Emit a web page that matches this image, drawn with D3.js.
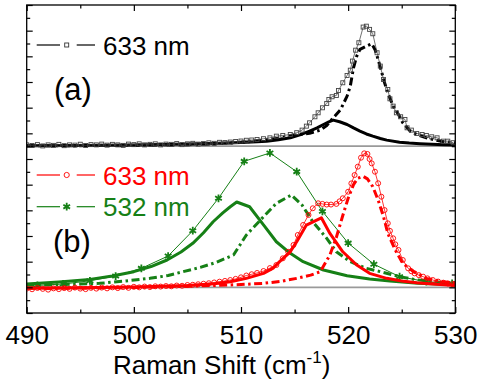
<!DOCTYPE html>
<html><head><meta charset="utf-8">
<script src="https://cdn.jsdelivr.net/npm/d3@7"></script>
<style>body{margin:0;background:#fff}svg{display:block}</style>
</head><body>
<svg id="c" width="479" height="379"></svg>
<script>
// ---------- data ----------
const xMajorTicks = [490, 500, 510, 520, 530];
const xMinorTicks = [495, 505, 515, 525];
const yMajorTicks = [0, 2, 4, 6, 8, 10, 12, 14, 16, 18, 20, 22, 24];
const yMinorTicks = [1, 3, 5, 7, 9, 11, 13, 15, 17, 19, 21, 23];
const offsetA = 13;   // baseline of panel (a)
const offsetB = 2;    // baseline of panel (b)
const legendA = ["633 nm"];
const legendB = ["633 nm", "532 nm"];
const panelLabels = ["(a)", "(b)"];

// (a) 633 nm measured (squares) [shift, intensity]
const sqData633a = [[490.0,0.10],[490.5,0.05],[491.0,0.12],[491.5,0.02],[492.0,0.10],[492.5,0.06],[493.0,0.14],[493.5,0.04],[494.0,0.10],[494.5,0.08],[495.0,0.15],[495.5,0.05],[496.0,0.12],[496.5,0.10],[497.0,0.16],[497.5,0.08],[498.0,0.14],[498.5,0.10],[499.0,0.06],[499.5,0.16],[500.0,0.12],[500.5,0.18],[501.0,0.10],[501.5,0.14],[502.0,0.18],[502.5,0.10],[503.0,0.16],[503.5,0.14],[504.0,0.20],[504.5,0.12],[505.0,0.18],[505.5,0.22],[506.0,0.16],[506.5,0.20],[507.0,0.26],[507.5,0.22],[508.0,0.30],[508.5,0.28],[509.0,0.32],[509.5,0.36],[510.0,0.40],[510.5,0.46],[511.0,0.48],[511.5,0.52],[512.1,0.58],[512.7,0.65],[513.3,0.78],[513.9,0.83],[514.6,0.91],[515.2,1.05],[515.7,1.25],[516.1,1.56],[516.4,1.82],[516.9,2.29],[517.2,2.60],[517.6,2.99],[518.0,3.33],[518.2,3.64],[518.5,3.85],[518.9,3.95],[519.1,4.34],[519.5,4.94],[519.9,5.51],[520.2,5.92],[520.4,6.63],[520.7,7.48],[521.0,8.06],[521.4,9.28],[521.7,9.35],[522.0,9.10],[522.3,8.76],[522.7,7.28],[523.0,6.24],[523.3,5.20],[523.7,4.42],[523.9,3.69],[524.2,3.12],[524.5,2.60],[524.9,2.29],[525.3,2.08],[525.5,1.43],[525.9,1.25],[526.4,0.99],[526.9,0.91],[527.3,0.83],[527.8,0.73],[528.3,0.65],[528.9,0.39],[529.3,0.39],[529.8,0.27]];
// (a) fit components
const fitSolid633a = [[490,0.03],[495,0.06],[500,0.10],[505,0.16],[508,0.22],[510,0.28],[511.5,0.34],[512.4,0.39],[513.5,0.50],[514.6,0.65],[515.5,0.88],[516.4,1.17],[517.1,1.42],[517.7,1.69],[518.2,1.90],[518.6,2.03],[519.2,1.90],[519.9,1.69],[520.5,1.42],[521.1,1.17],[521.7,0.95],[522.3,0.78],[523.0,0.60],[523.6,0.47],[524.8,0.31],[525.7,0.24],[526.7,0.19],[528.9,0.11],[530,0.09]];
const fitDash633a = [[490,0.02],[495,0.04],[500,0.06],[505,0.12],[508,0.20],[510,0.30],[512,0.45],[513.5,0.62],[515,0.85],[516.4,1.00],[517.4,1.25],[518.0,1.60],[518.6,2.20],[519.3,2.86],[519.9,3.90],[520.2,4.68],[520.5,6.11],[520.8,7.01],[521.1,7.54],[521.7,7.79],[522.2,7.98],[522.5,7.54],[522.8,6.76],[523.1,5.85],[523.4,4.94],[523.7,4.16],[524.2,3.12],[524.7,2.47],[525.1,1.82],[525.8,1.17],[526.4,0.91],[527.3,0.65],[528.6,0.39],[529.8,0.27],[530,0.26]];

// (b) 633 nm measured (circles)
const circData633b = [[490.0,-0.10],[490.5,-0.15],[491.0,-0.05],[491.5,-0.12],[492.0,-0.18],[492.5,-0.08],[493.0,-0.14],[493.5,-0.06],[494.0,-0.12],[494.5,-0.02],[495.0,-0.10],[495.5,-0.14],[496.0,-0.04],[496.5,-0.10],[497.0,-0.02],[497.5,-0.08],[498.0,0.00],[498.5,-0.06],[499.0,0.02],[499.5,-0.04],[500.0,0.04],[500.5,0.00],[501.0,0.06],[501.5,0.02],[502.0,0.08],[502.5,0.06],[503.0,0.10],[503.5,0.08],[504.0,0.14],[504.5,0.12],[505.0,0.18],[505.5,0.20],[506.0,0.24],[506.5,0.28],[507.0,0.32],[507.5,0.38],[508.0,0.44],[508.5,0.50],[509.0,0.57],[509.5,0.66],[510.0,0.78],[510.5,0.92],[511.0,1.02],[511.5,1.12],[512.1,1.27],[512.7,1.50],[513.3,1.74],[513.9,2.26],[514.4,2.77],[514.9,3.30],[515.3,4.08],[515.8,4.86],[516.3,5.64],[516.7,6.16],[517.2,6.55],[517.6,6.50],[518.0,6.45],[518.4,6.45],[518.9,6.50],[519.2,6.70],[519.5,6.94],[520.0,7.45],[520.3,8.10],[520.6,8.75],[520.9,9.40],[521.2,10.10],[521.5,10.44],[521.8,10.39],[522.0,10.00],[522.2,9.66],[522.5,9.01],[522.8,8.11],[523.1,7.06],[523.4,6.02],[523.7,4.99],[523.9,4.40],[524.2,3.82],[524.4,3.35],[524.7,2.91],[525.1,2.13],[525.6,1.48],[525.9,1.25],[526.2,1.09],[526.6,0.95],[527.0,0.83],[527.4,0.70],[527.9,0.57],[528.4,0.45],[528.9,0.36],[529.3,0.30],[529.8,0.26]];
const fitSolid633b = [[490,-0.08],[495,-0.04],[500,0.02],[505,0.14],[507.5,0.28],[509.0,0.44],[510.5,0.70],[512.1,1.09],[513.0,1.50],[513.6,2.00],[514.6,2.77],[515.2,3.55],[516.1,4.85],[517.5,5.42],[518.3,4.20],[519.5,2.77],[520.8,1.74],[522.0,1.09],[523.6,0.70],[525.0,0.50],[526.4,0.36],[528.2,0.24],[530,0.15]];
const fitDash633b = [[490,-0.08],[495,-0.06],[500,-0.02],[505,0.08],[508,0.16],[510,0.22],[512.1,0.31],[513.8,0.48],[515.2,0.70],[516.5,0.95],[517.4,1.22],[518.3,2.52],[518.9,3.90],[519.5,5.60],[520.0,6.94],[520.5,8.00],[520.9,8.50],[521.4,8.65],[521.8,8.45],[522.3,7.84],[522.8,6.80],[523.3,5.50],[523.7,4.21],[524.4,2.91],[525.1,1.87],[526.1,1.22],[527.3,0.70],[528.9,0.44],[530,0.31]];

// (b) 532 nm measured (asterisks)
const starData532b = [[491.0,0.15],[493.4,0.26],[495.9,0.51],[498.3,0.88],[500.7,1.48],[503.2,2.44],[505.5,4.41],[507.9,6.94],[510.3,9.82],[512.7,10.47],[515.2,9.01],[517.6,5.92],[520.0,3.45],[522.4,1.80],[524.8,0.83],[527.3,0.44],[529.7,0.31]];
const fitSolid532b = [[490,0.26],[493,0.42],[495.9,0.62],[498,0.88],[500,1.22],[501.6,1.62],[503.1,2.13],[504.4,2.75],[505.5,3.43],[506.5,4.25],[507.4,5.11],[508.3,5.80],[509.0,6.28],[509.6,6.65],[510.8,6.28],[512.1,4.86],[513.3,3.55],[514.6,2.65],[515.8,2.00],[517.7,1.35],[519.9,0.90],[522.0,0.65],[523.9,0.49],[526.5,0.32],[530,0.20]];
const fitDash532b = [[490,0.15],[493.5,0.22],[496.8,0.31],[499,0.48],[501.5,0.70],[503.2,0.92],[504.6,1.22],[506.2,1.55],[507.7,1.95],[509.3,2.52],[510.5,4.08],[512.1,5.50],[513.3,6.55],[514.7,7.19],[515.7,6.41],[516.7,5.11],[518.0,3.82],[518.9,2.77],[520.2,2.00],[521.7,1.48],[523.0,1.22],[524.8,0.83],[526.3,0.60],[527.9,0.44],[530,0.31]];

// ---------- drawing ----------
const L = 26.7, R = 455.3, T = 5, B = 313;
const svg = d3.select("#c");
const x = d3.scaleLinear().domain([490, 530]).range([L, R]);
const y = d3.scaleLinear().domain([0, 24]).range([B, T]);
const FONT = "'Liberation Sans', Arial, Helvetica, sans-serif";
const RED = "#ff0000", GREEN = "#168016", BLACK = "#000", GRAY = "#9a9a9a";

svg.append("clipPath").attr("id", "clip").append("rect")
  .attr("x", L).attr("y", T).attr("width", R - L).attr("height", B - T);
const plot = svg.append("g").attr("clip-path", "url(#clip)");

// baselines
[offsetA, offsetB].forEach(o => {
  plot.append("line").attr("x1", L).attr("x2", R).attr("y1", y(o)).attr("y2", y(o))
    .attr("stroke", GRAY).attr("stroke-width", 1.6);
});

function lineGen(off) {
  return d3.line().x(d => x(d[0])).y(d => y(d[1] + off)).curve(d3.curveLinear);
}
const DASH = "8,3.5,2.5,3.5";
function drawFit(data, off, color, dashed) {
  plot.append("path").datum(data).attr("d", lineGen(off))
    .attr("fill", "none").attr("stroke", color).attr("stroke-width", 3)
    .attr("stroke-dasharray", dashed ? DASH : null).attr("stroke-linejoin", "round");
}
function drawDataLine(data, off, color, w) {
  plot.append("path").datum(data).attr("d", lineGen(off))
    .attr("fill", "none").attr("stroke", color).attr("stroke-width", w);
}

// panel (b) green
drawFit(fitSolid532b, offsetB, GREEN, false);
drawFit(fitDash532b, offsetB, GREEN, true);
drawDataLine(starData532b, offsetB, GREEN, 1);
const star = d3.symbol().type(d3.symbolAsterisk).size(42);
plot.selectAll(".st").data(starData532b).enter().append("path")
  .attr("d", star).attr("transform", d => `translate(${x(d[0])},${y(d[1] + offsetB)})`)
  .attr("fill", "none").attr("stroke", GREEN).attr("stroke-width", 1.8);

// panel (b) red
drawFit(fitSolid633b, offsetB, RED, false);
drawFit(fitDash633b, offsetB, RED, true);
drawDataLine(circData633b, offsetB, RED, 0.8);
plot.selectAll(".ci").data(circData633b).enter().append("circle")
  .attr("cx", d => x(d[0])).attr("cy", d => y(d[1] + offsetB)).attr("r", 2.5)
  .attr("fill", "none").attr("stroke", RED).attr("stroke-width", 0.9);

// panel (a) black
drawFit(fitSolid633a, offsetA, BLACK, false);
drawFit(fitDash633a, offsetA, BLACK, true);
drawDataLine(sqData633a, offsetA, "#333", 0.7);
plot.selectAll(".sq").data(sqData633a).enter().append("rect")
  .attr("x", d => x(d[0]) - 2).attr("y", d => y(d[1] + offsetA) - 2)
  .attr("width", 4).attr("height", 4)
  .attr("fill", "none").attr("stroke", "#444").attr("stroke-width", 0.9);

// frame
svg.append("rect").attr("x", L).attr("y", T).attr("width", R - L).attr("height", B - T)
  .attr("fill", "none").attr("stroke", BLACK).attr("stroke-width", 1.3);

// axes (ticks inward)
function noDomain(g) { g.select(".domain").remove(); }
function tickW(g) { g.selectAll("line").attr("stroke-width", 1.2); }
svg.append("g").attr("transform", `translate(0,${B})`)
  .call(d3.axisBottom(x).tickValues(xMajorTicks).tickSize(-6).tickPadding(13).tickFormat(d3.format("d")))
  .call(noDomain).call(tickW)
  .call(g => g.selectAll("text").attr("font-family", FONT).attr("font-size", 26).attr("fill", BLACK));
svg.append("g").attr("transform", `translate(0,${B})`)
  .call(d3.axisBottom(x).tickValues(xMinorTicks).tickSize(-3.5).tickFormat(""))
  .call(noDomain).call(tickW);
svg.append("g").attr("transform", `translate(0,${T})`)
  .call(d3.axisTop(x).tickValues(xMajorTicks).tickSize(-6).tickFormat(""))
  .call(noDomain).call(tickW);
svg.append("g").attr("transform", `translate(0,${T})`)
  .call(d3.axisTop(x).tickValues(xMinorTicks).tickSize(-3.5).tickFormat(""))
  .call(noDomain).call(tickW);
svg.append("g").attr("transform", `translate(${L},0)`)
  .call(d3.axisLeft(y).tickValues(yMajorTicks).tickSize(-6).tickFormat(""))
  .call(noDomain).call(tickW);
svg.append("g").attr("transform", `translate(${L},0)`)
  .call(d3.axisLeft(y).tickValues(yMinorTicks).tickSize(-3.5).tickFormat(""))
  .call(noDomain).call(tickW);
svg.append("g").attr("transform", `translate(${R},0)`)
  .call(d3.axisRight(y).tickValues(yMajorTicks).tickSize(-6).tickFormat(""))
  .call(noDomain).call(tickW);
svg.append("g").attr("transform", `translate(${R},0)`)
  .call(d3.axisRight(y).tickValues(yMinorTicks).tickSize(-3.5).tickFormat(""))
  .call(noDomain).call(tickW);

// axis title
const title = svg.append("text").attr("x", 113).attr("y", 374)
  .attr("font-family", FONT).attr("font-size", 26).attr("fill", BLACK);
title.append("tspan").text("Raman Shift (cm");
title.append("tspan").attr("dy", -11).attr("font-size", 17).text("-1");
title.append("tspan").attr("dy", 11).text(")");

// legends
function legendItem(ly, color, label, marker) {
  const g = svg.append("g");
  g.append("line").attr("x1", 36.7).attr("x2", 60).attr("y1", ly).attr("y2", ly).attr("stroke", color).attr("stroke-width", 1.2);
  g.append("line").attr("x1", 76.7).attr("x2", 95).attr("y1", ly).attr("y2", ly).attr("stroke", color).attr("stroke-width", 1.2);
  if (marker === "square") {
    g.append("rect").attr("x", 64.7).attr("y", ly - 2).attr("width", 4).attr("height", 4)
      .attr("fill", "none").attr("stroke", "#333").attr("stroke-width", 0.9);
  } else if (marker === "circle") {
    g.append("circle").attr("cx", 66.7).attr("cy", ly).attr("r", 2.6)
      .attr("fill", "none").attr("stroke", color).attr("stroke-width", 0.9);
  } else {
    g.append("path").attr("d", star).attr("transform", `translate(66.7,${ly})`)
      .attr("fill", "none").attr("stroke", color).attr("stroke-width", 1.8);
  }
  g.append("text").attr("x", 103).attr("y", ly + 9.5).attr("font-family", FONT)
    .attr("font-size", 26).attr("fill", color).text(label);
}
legendItem(45, BLACK, legendA[0], "square");
legendItem(175, RED, legendB[0], "circle");
legendItem(206.7, GREEN, legendB[1], "star");

// panel labels
svg.append("text").attr("x", 54).attr("y", 100).attr("font-family", FONT).attr("font-size", 31).attr("fill", BLACK).text(panelLabels[0]);
svg.append("text").attr("x", 53).attr("y", 252).attr("font-family", FONT).attr("font-size", 31).attr("fill", BLACK).text(panelLabels[1]);
</script>
</body></html>
